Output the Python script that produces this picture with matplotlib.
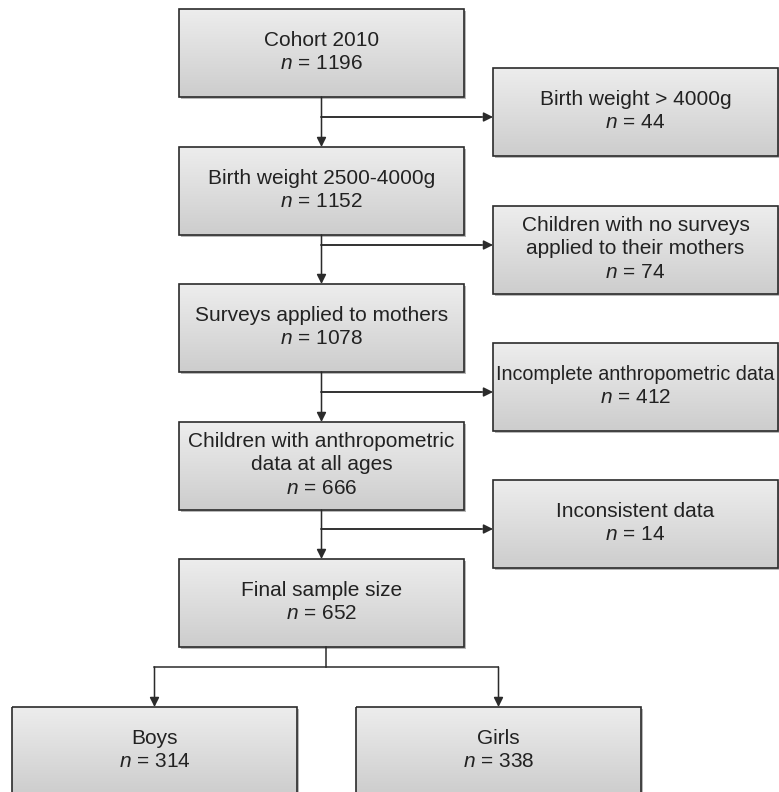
import numpy as np
import matplotlib.pyplot as plt
from matplotlib.patches import Rectangle
from matplotlib.colors import LinearSegmentedColormap

plt.rcParams['font.family'] = ['Liberation Sans', 'DejaVu Sans']
plt.rcParams['mathtext.fontset'] = 'custom'
plt.rcParams['mathtext.rm'] = 'Liberation Sans'
plt.rcParams['mathtext.it'] = 'Liberation Sans:italic'

# flowchart content
main_labels = ["Cohort 2010", "Birth weight 2500-4000g", "Surveys applied to mothers",
               "Children with anthropometric\ndata at all ages", "Final sample size"]
main_n = [1196, 1152, 1078, 666, 652]
excl_labels = ["Birth weight > 4000g", "Children with no surveys\napplied to their mothers",
               "Incomplete anthropometric data", "Inconsistent data"]
excl_n = [44, 74, 412, 14]
group_labels = ["Boys", "Girls"]
group_n = [314, 338]

# layout, in pixels from the top-left corner
W, H = 779, 792
box_h = 88
main_x = (179, 464)
main_top = [9, 147, 284, 422, 559]
side_x = (493, 778)
side_top = [68, 206, 343, 480]
branch_y = [117, 245, 392, 529]
group_x = [(12, 297), (356, 641)]
group_top = 707
split_y = 667

line_c = '#2b2b2b'
text_c = '#222222'

fig = plt.figure(figsize=(W / 100, H / 100), dpi=100)
ax = fig.add_axes([0, 0, 1, 1])
ax.axis('off')
renderer = fig.canvas.get_renderer()

grad = np.linspace(0, 1, 64).reshape(-1, 1)
box_cmap = LinearSegmentedColormap.from_list('box', ['#ededed', '#cdcdcd'])


def draw_box(x0, x1, y0, label, n, fs=15, pitch=23.5):
    y1 = y0 + box_h
    # drop shadow, gradient fill, border
    ax.add_patch(Rectangle((x0 + 2, y0 + 2), x1 - x0, y1 - y0,
                           facecolor='#b8b8b8', edgecolor='none', zorder=1))
    ax.imshow(grad, cmap=box_cmap, extent=(x0, x1, y1, y0), aspect='auto',
              interpolation='bilinear', zorder=2)
    ax.add_patch(Rectangle((x0, y0), x1 - x0, y1 - y0, facecolor='none',
                           edgecolor=line_c, lw=1.2, zorder=3))
    lines = label.split('\n') + [f"$n$ = {n}"]
    yc = (y0 + y1) / 2 - 3
    k = len(lines)
    for i, s in enumerate(lines):
        y = yc + (i - (k - 1) / 2) * pitch + 7.5
        t = ax.text((x0 + x1) / 2, y, s, ha='center', va='baseline',
                    fontsize=fs, color=text_c, zorder=4)
        # squeeze long lines so they stay inside the box
        w = t.get_window_extent(renderer).width
        if w > (x1 - x0) - 6:
            t.set_fontsize(fs * ((x1 - x0) - 6) / w)


def arrow(x0, y0, x1, y1):
    ax.annotate('', xy=(x1, y1), xytext=(x0, y0),
                arrowprops=dict(arrowstyle='-|>', color=line_c, lw=1.1,
                                mutation_scale=14, shrinkA=0, shrinkB=0),
                zorder=3)


xc = (main_x[0] + main_x[1]) / 2
for i, (lab, n) in enumerate(zip(main_labels, main_n)):
    draw_box(main_x[0], main_x[1], main_top[i], lab, n)
for i, (lab, n) in enumerate(zip(excl_labels, excl_n)):
    draw_box(side_x[0], side_x[1], side_top[i], lab, n)
for (gx0, gx1), lab, n in zip(group_x, group_labels, group_n):
    draw_box(gx0, gx1, group_top, lab, n)

# main flow with exclusion branches
for i in range(len(main_top) - 1):
    arrow(xc, main_top[i] + box_h, xc, main_top[i + 1])
    ax.plot([xc, side_x[0] - 12], [branch_y[i], branch_y[i]], color=line_c, lw=1.1, zorder=3)
    arrow(xc, branch_y[i], side_x[0], branch_y[i])

# split into boys and girls
gc = [(a + b) / 2 for a, b in group_x]
ax.plot([xc + 5, xc + 5], [main_top[-1] + box_h, split_y], color=line_c, lw=1.1, zorder=3)
ax.plot([gc[0], gc[1]], [split_y, split_y], color=line_c, lw=1.1, zorder=3)
for g in gc:
    arrow(g, split_y, g, group_top)

ax.set_xlim(0, W)
ax.set_ylim(H, 0)
fig.savefig('out.png', dpi=100, facecolor='white')
